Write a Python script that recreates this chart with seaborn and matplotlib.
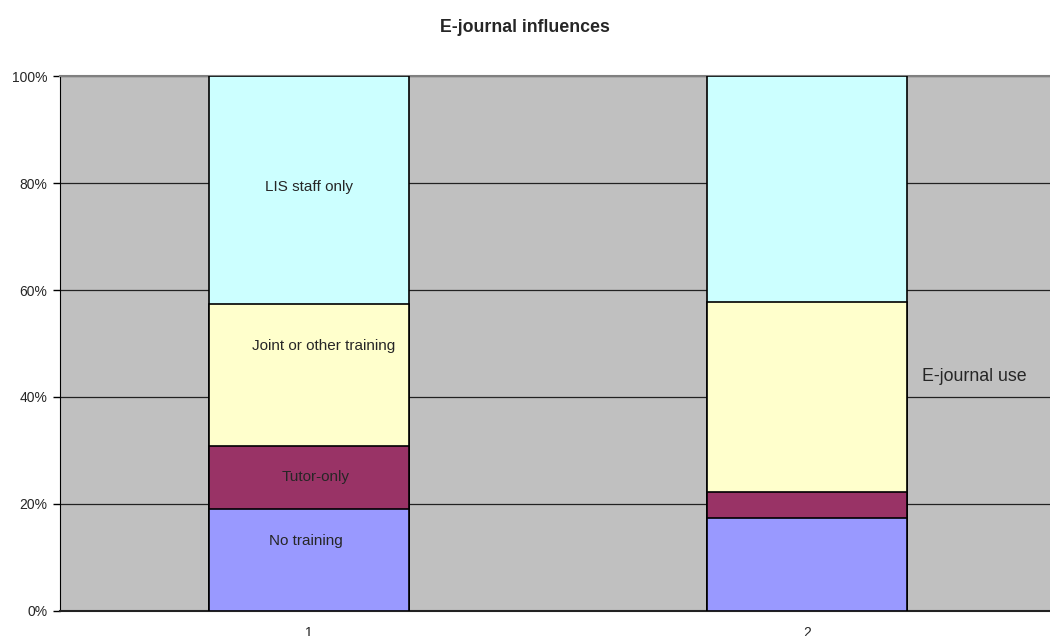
import numpy as np
import pandas as pd
import matplotlib
matplotlib.use("Agg")
import matplotlib.pyplot as plt
import seaborn as sns

# Values (percent of respondents)
groups = [1, 2]
series = ["No training", "Tutor-only", "Joint or other training", "LIS staff only"]
no_training = [19.0, 17.3]
tutor_only = [11.8, 4.9]
joint_other = [26.5, 35.5]
lis_staff = [42.7, 42.3]
colors = ["#9999FF", "#993366", "#FFFFCC", "#CCFFFF"]

sns.set_style("white")
plt.rcParams["font.family"] = ["Liberation Sans", "DejaVu Sans"]

values = np.array([no_training, tutor_only, joint_other, lis_staff])
tops = np.cumsum(values, axis=0)

fig = plt.figure(figsize=(10.5, 6.36), dpi=100)
ax = fig.add_axes([60 / 1050, 25.3 / 636, 996 / 1050, 534.5 / 636])
ax.set_facecolor("#C0C0C0")

# stacked bars: draw cumulative tops from the tallest down
for i in range(len(series) - 1, -1, -1):
    df = pd.DataFrame({"group": groups, "top": tops[i]})
    sns.barplot(data=df, x="group", y="top", native_scale=True, width=0.4,
                color=colors[i], edgecolor="black", linewidth=1.2,
                saturation=1, ax=ax, zorder=3)

ax.set_xlim(0.5, 2.5)
ax.set_ylim(0, 100)
ax.set_yticks([0, 20, 40, 60, 80, 100])
ax.set_yticklabels([f"{v}%" for v in [0, 20, 40, 60, 80, 100]], fontsize=10)
ax.set_xticks(groups)
ax.set_xticklabels([str(g) for g in groups], fontsize=10)
ax.set_xticks([1.5], minor=True)
ax.tick_params(axis="x", which="major", length=0, pad=11)
ax.tick_params(axis="x", which="minor", length=5, width=1, color="#555555")
ax.tick_params(axis="y", length=5, width=1, color="black", left=True, pad=4)
ax.set_xlabel("")
ax.set_ylabel("")
ax.yaxis.grid(True, color="#222222", linewidth=0.9, zorder=0)
ax.set_axisbelow(True)
ax.spines["right"].set_visible(False)
ax.spines["top"].set_color("#808080")
ax.spines["top"].set_linewidth(1.5)
ax.spines["left"].set_color("black")
ax.spines["bottom"].set_color("#222222")
ax.spines["bottom"].set_linewidth(1.5)

# in-bar labels for the first group
ax.text(1.0, 79.3, "LIS staff only", ha="center", va="center", fontsize=11, zorder=5)
ax.text(1.03, 49.5, "Joint or other training", ha="center", va="center", fontsize=11, zorder=5)
ax.text(1.014, 25.0, "Tutor-only", ha="center", va="center", fontsize=11, zorder=5)
ax.text(0.994, 13.0, "No training", ha="center", va="center", fontsize=11, zorder=5)
ax.text(2.23, 43.8, "E-journal use", ha="left", va="center", fontsize=12.8, zorder=5)

fig.text(0.5, 1 - 27 / 636, "E-journal influences", ha="center", va="center",
         fontsize=12.8, fontweight="bold")

fig.savefig("out.png", dpi=100)
